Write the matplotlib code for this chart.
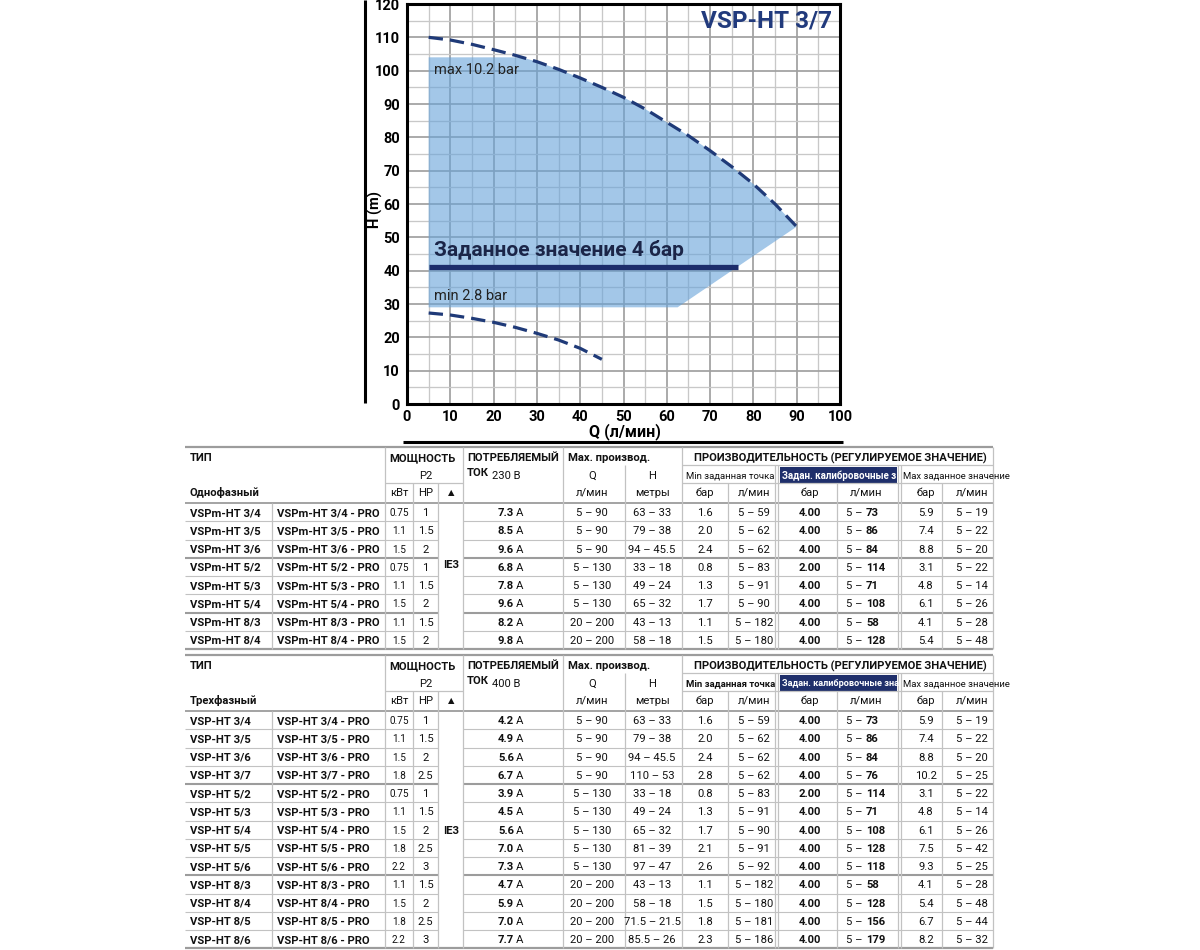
import matplotlib
matplotlib.use("Agg")
import matplotlib.pyplot as plt
from matplotlib.patches import Rectangle
from matplotlib.ticker import MultipleLocator
from matplotlib import font_manager as fm

plt.rcParams['font.family'] = ['Roboto', 'DejaVu Sans']
_names = {f.name for f in fm.fontManager.ttflist}
HAS_NARROW = 'Liberation Sans Narrow' in _names
NARROW = ['Liberation Sans Narrow', 'DejaVu Sans'] if HAS_NARROW else ['Roboto', 'DejaVu Sans']

# ---------------- chart data ----------------
max_q = [5, 10, 15, 20, 25, 30, 35, 40, 45, 50, 55, 60, 65, 70, 75, 80, 85, 90]
max_h = [110, 109.2, 107.9, 106.3, 104.6, 102.7, 100.4, 97.8, 95, 92, 88.5, 84.5, 80.5, 76, 71.2, 66, 60, 53.2]
min_q = [5, 10, 15, 20, 25, 30, 35, 40, 45]
min_h = [27.3, 26.7, 25.7, 24.5, 23.0, 21.2, 19.2, 16.7, 13.4]
region_q_left = 5
region_h_top = 104
region_q_top_end = 26.5
region_h_bottom = 29
region_q_corner = 62.5
setpoint_q = [5, 76.5]
setpoint_h = 41
title = "VSP-HT 3/7"

# ---------------- table data: single phase ----------------
sp_type = ["VSPm-HT 3/4", "VSPm-HT 3/5", "VSPm-HT 3/6", "VSPm-HT 5/2", "VSPm-HT 5/3",
           "VSPm-HT 5/4", "VSPm-HT 8/3", "VSPm-HT 8/4"]
sp_type_pro = ["VSPm-HT 3/4 - PRO", "VSPm-HT 3/5 - PRO", "VSPm-HT 3/6 - PRO", "VSPm-HT 5/2 - PRO",
               "VSPm-HT 5/3 - PRO", "VSPm-HT 5/4 - PRO", "VSPm-HT 8/3 - PRO", "VSPm-HT 8/4 - PRO"]
sp_kw = ["0.75", "1.1", "1.5", "0.75", "1.1", "1.5", "1.1", "1.5"]
sp_hp = ["1", "1.5", "2", "1", "1.5", "2", "1.5", "2"]
sp_amp = ["7.3", "8.5", "9.6", "6.8", "7.8", "9.6", "8.2", "9.8"]
sp_q = ["5 – 90", "5 – 90", "5 – 90", "5 – 130", "5 – 130", "5 – 130", "20 – 200", "20 – 200"]
sp_h = ["63 – 33", "79 – 38", "94 – 45.5", "33 – 18", "49 – 24", "65 – 32", "43 – 13", "58 – 18"]
sp_min_bar = ["1.6", "2.0", "2.4", "0.8", "1.3", "1.7", "1.1", "1.5"]
sp_min_q = ["5 – 59", "5 – 62", "5 – 62", "5 – 83", "5 – 91", "5 – 90", "5 – 182", "5 – 180"]
sp_cal_bar = ["4.00", "4.00", "4.00", "2.00", "4.00", "4.00", "4.00", "4.00"]
sp_cal_q = ["73", "86", "84", "114", "71", "108", "58", "128"]
sp_max_bar = ["5.9", "7.4", "8.8", "3.1", "4.8", "6.1", "4.1", "5.4"]
sp_max_q = ["5 – 19", "5 – 22", "5 – 20", "5 – 22", "5 – 14", "5 – 26", "5 – 28", "5 – 48"]
sp_groups = [3, 3, 2]

# ---------------- table data: three phase ----------------
tp_type = ["VSP-HT 3/4", "VSP-HT 3/5", "VSP-HT 3/6", "VSP-HT 3/7", "VSP-HT 5/2", "VSP-HT 5/3",
           "VSP-HT 5/4", "VSP-HT 5/5", "VSP-HT 5/6", "VSP-HT 8/3", "VSP-HT 8/4", "VSP-HT 8/5", "VSP-HT 8/6"]
tp_type_pro = ["VSP-HT 3/4 - PRO", "VSP-HT 3/5 - PRO", "VSP-HT 3/6 - PRO", "VSP-HT 3/7 - PRO",
               "VSP-HT 5/2 - PRO", "VSP-HT 5/3 - PRO", "VSP-HT 5/4 - PRO", "VSP-HT 5/5 - PRO",
               "VSP-HT 5/6 - PRO", "VSP-HT 8/3 - PRO", "VSP-HT 8/4 - PRO", "VSP-HT 8/5 - PRO",
               "VSP-HT 8/6 - PRO"]
tp_kw = ["0.75", "1.1", "1.5", "1.8", "0.75", "1.1", "1.5", "1.8", "2.2", "1.1", "1.5", "1.8", "2.2"]
tp_hp = ["1", "1.5", "2", "2.5", "1", "1.5", "2", "2.5", "3", "1.5", "2", "2.5", "3"]
tp_amp = ["4.2", "4.9", "5.6", "6.7", "3.9", "4.5", "5.6", "7.0", "7.3", "4.7", "5.9", "7.0", "7.7"]
tp_q = ["5 – 90"] * 4 + ["5 – 130"] * 5 + ["20 – 200"] * 4
tp_h = ["63 – 33", "79 – 38", "94 – 45.5", "110 – 53", "33 – 18", "49 – 24", "65 – 32", "81 – 39",
        "97 – 47", "43 – 13", "58 – 18", "71.5 – 21.5", "85.5 – 26"]
tp_min_bar = ["1.6", "2.0", "2.4", "2.8", "0.8", "1.3", "1.7", "2.1", "2.6", "1.1", "1.5", "1.8", "2.3"]
tp_min_q = ["5 – 59", "5 – 62", "5 – 62", "5 – 62", "5 – 83", "5 – 91", "5 – 90", "5 – 91", "5 – 92",
            "5 – 182", "5 – 180", "5 – 181", "5 – 186"]
tp_cal_bar = ["4.00", "4.00", "4.00", "4.00", "2.00", "4.00", "4.00", "4.00", "4.00", "4.00", "4.00",
              "4.00", "4.00"]
tp_cal_q = ["73", "86", "84", "76", "114", "71", "108", "128", "118", "58", "128", "156", "179"]
tp_max_bar = ["5.9", "7.4", "8.8", "10.2", "3.1", "4.8", "6.1", "7.5", "9.3", "4.1", "5.4", "6.7", "8.2"]
tp_max_q = ["5 – 19", "5 – 22", "5 – 20", "5 – 25", "5 – 22", "5 – 14", "5 – 26", "5 – 42", "5 – 25",
            "5 – 28", "5 – 48", "5 – 44", "5 – 32"]
tp_groups = [4, 5, 4]

# ---------------- figure ----------------
W, H = 1200, 950
fig = plt.figure(figsize=(12, 9.5), dpi=100)
fig.patch.set_facecolor('white')

ov = fig.add_axes([0, 0, 1, 1])
ov.set_xlim(0, W)
ov.set_ylim(H, 0)
ov.axis('off')

NAVY = '#213a7c'
DARK = '#1b2548'

ax = fig.add_axes([407 / W, 1 - 404 / H, (840 - 407) / W, (404 - 4) / H])
ax.set_xlim(0, 100)
ax.set_ylim(0, 120)
ax.xaxis.set_major_locator(MultipleLocator(10))
ax.xaxis.set_minor_locator(MultipleLocator(5))
ax.yaxis.set_major_locator(MultipleLocator(10))
ax.yaxis.set_minor_locator(MultipleLocator(5))
ax.grid(which='major', color='#a0a0a0', lw=1.25)
ax.grid(which='minor', color='#c8c8c8', lw=0.95)
ax.set_axisbelow(True)
ax.tick_params(which='both', length=0)
ax.tick_params(axis='x', pad=4)
ax.tick_params(axis='y', pad=5)
tick_fs = 12.5 if HAS_NARROW else 10.5
for lab in ax.get_xticklabels() + ax.get_yticklabels():
    lab.set_fontweight('bold')
    lab.set_fontsize(tick_fs)
    lab.set_family(NARROW)
for sp in ax.spines.values():
    sp.set_linewidth(2.2)
    sp.set_color('black')

poly_q = [region_q_left, region_q_top_end] + [q for q in max_q if q > region_q_top_end + 1] + \
         [region_q_corner, region_q_left]
poly_h = [region_h_top, region_h_top] + [h for q, h in zip(max_q, max_h) if q > region_q_top_end + 1] + \
         [region_h_bottom, region_h_bottom]
ax.fill(poly_q, poly_h, color='#66a2d9', alpha=0.6, lw=0, zorder=2)

ax.plot(max_q, max_h, color='#1f3a78', lw=2.3, dashes=(4.5, 2.2), zorder=4)
ax.plot(min_q, min_h, color='#1f3a78', lw=2.3, dashes=(4.5, 2.2), zorder=4)
ax.plot(setpoint_q, [setpoint_h, setpoint_h], color='#1b2c6b', lw=3.8, solid_capstyle='butt', zorder=5)

lab_fs = 12.5 if HAS_NARROW else 10.5
ax.text(6.2, 100.2, 'max 10.2 bar', fontsize=lab_fs, color='#222222', va='center', zorder=6,
        family=NARROW)
ax.text(6.3, 32.5, 'min 2.8 bar', fontsize=lab_fs, color='#222222', va='center', zorder=6,
        family=NARROW)
ax.text(6.3, 46.2, 'Заданное значение 4 бар', fontsize=15, fontweight='bold', color=DARK,
        va='center', zorder=6)
ax.text(98.2, 114.8, title, ha='right', va='center', fontsize=17.5, fontweight='bold', color=NAVY, zorder=6)

ov.text(375, 210, 'H (m)', rotation=90, ha='center', va='center', fontsize=10.5, fontweight='bold',
        family=NARROW)
ov.text(625, 432, 'Q (л/мин)', ha='center', va='center', fontsize=11.5, fontweight='bold',
        family=NARROW)

ov.plot([365, 365], [0, 403], color='black', lw=2.2, solid_capstyle='butt')
ov.plot([403, 843], [442, 442], color='black', lw=2.2, solid_capstyle='butt')

# ---------------- tables ----------------
LX, RX = 185, 993
RH = 18.25
FS = 8.1
LG = '#c2c2c2'
MG = '#9c9c9c'


def hline(y, x0, x1, color, lw):
    ov.plot([x0, x1], [y, y], color=color, lw=lw, solid_capstyle='butt')


def vline(x, y0, y1, color=LG, lw=0.9):
    ov.plot([x, x], [y0, y1], color=color, lw=lw, solid_capstyle='butt')


def t(x, y, s, ha='left', bold=False, size=FS, color='#111111', **kw):
    return ov.text(x, y, s, ha=ha, va='center_baseline', fontsize=size,
                   fontweight='bold' if bold else 'normal', color=color, **kw)


def draw_table(top, phase, volt, types, types_pro, kw, hp, amp, q, h, min_bar, min_q,
               cal_bar, cal_q, max_bar, max_q, groups, ie3_y, min_bold, cal_label, cal_fs):
    hb = top + 56
    n = len(types)
    bot = hb + n * RH
    # horizontal header lines
    hline(top, LX, RX, MG, 1.6)
    hline(top + 18, 682, RX, LG, 0.9)
    hline(top + 36, 385, 463, LG, 0.9)
    hline(top + 36, 682, RX, LG, 0.9)
    hline(hb, LX, RX, MG, 1.3)
    ends = []
    acc = 0
    for g in groups:
        acc += g
        ends.append(acc)
    for i in range(1, n + 1):
        y = hb + i * RH
        if i == n:
            hline(y, LX, RX, MG, 1.6)
        elif i in ends:
            hline(y, LX, 438, MG, 1.5)
            hline(y, 463, RX, MG, 1.5)
        else:
            hline(y, LX, 438, LG, 0.8)
            hline(y, 463, RX, LG, 0.8)
    # vertical lines
    for x in (385, 463, 563, 682, RX):
        vline(x, top, bot)
    for x in (625, 775, 778, 898, 901):
        vline(x, top + 18, bot)
    for x in (413, 438, 728, 837, 942):
        vline(x, top + 36, bot)
    vline(272, hb, bot)
    # header text
    t(190, top + 10, 'ТИП', bold=True)
    t(190, top + 45, phase, bold=True)
    t(389, top + 10, 'МОЩНОСТЬ', bold=True)
    t(425.5, top + 28, 'P2', ha='center')
    t(399, top + 45, 'кВт', ha='center')
    t(425.5, top + 45, 'HP', ha='center')
    t(451, top + 45, '▲', ha='center', size=6)
    t(467, top + 10, 'ПОТРЕБЛЯЕМЫЙ', bold=True)
    t(467, top + 25, 'ТОК', bold=True)
    t(492, top + 28, volt)
    t(568, top + 10, 'Max. производ.', bold=True)
    t(592, top + 28, 'Q', ha='center')
    t(652, top + 28, 'H', ha='center')
    t(592, top + 45, 'л/мин', ha='center')
    t(652, top + 45, 'метры', ha='center')
    t(694, top + 10, 'ПРОИЗВОДИТЕЛЬНОСТЬ (РЕГУЛИРУЕМОЕ ЗНАЧЕНИЕ)', bold=True)
    nfs = 8.0 if HAS_NARROW else 6.8
    t(686, top + 27.5, 'Min заданная точка', size=nfs, bold=min_bold, family=NARROW)
    box = Rectangle((780, top + 20), 117, 16, facecolor='#1f2f6b', edgecolor='none')
    ov.add_patch(box)
    bt = t(782, top + 27.5, cal_label, bold=True, size=cal_fs, color='white')
    bt.set_clip_path(box)
    t(903, top + 27.5, 'Max заданное значение', size=nfs, family=NARROW)
    for xc in (705, 810, 926):
        t(xc, top + 45, 'бар', ha='center')
    for xc in (754, 866, 972):
        t(xc, top + 45, 'л/мин', ha='center')
    t(451, ie3_y, 'IE3', ha='center', bold=True)
    # rows
    for i in range(n):
        y = hb + (i + 0.5) * RH
        t(190, y, types[i], bold=True)
        t(277, y, types_pro[i], bold=True)
        t(399, y, kw[i], ha='center', size=7.2)
        t(425.5, y, hp[i], ha='center')
        t(514, y, amp[i], ha='right', bold=True)
        t(516, y, 'A')
        t(592, y, q[i], ha='center')
        t(652, y, h[i], ha='center')
        t(705, y, min_bar[i], ha='center')
        t(754, y, min_q[i], ha='center')
        t(810, y, cal_bar[i], ha='center', bold=True)
        t(863, y, '5 –', ha='right')
        t(866, y, cal_q[i], bold=True)
        t(926, y, max_bar[i], ha='center')
        t(972, y, max_q[i], ha='center')


draw_table(447, 'Однофазный', '230 В', sp_type, sp_type_pro, sp_kw, sp_hp, sp_amp, sp_q, sp_h,
           sp_min_bar, sp_min_q, sp_cal_bar, sp_cal_q, sp_max_bar, sp_max_q, sp_groups, 564, False,
           'Задан. калибровочные з', 7.0)
draw_table(655, 'Трехфазный', '400 В', tp_type, tp_type_pro, tp_kw, tp_hp, tp_amp, tp_q, tp_h,
           tp_min_bar, tp_min_q, tp_cal_bar, tp_cal_q, tp_max_bar, tp_max_q, tp_groups, 830, True,
           'Задан. калибровочные зна', 6.6)

fig.savefig('out.png', dpi=100, facecolor='white')
